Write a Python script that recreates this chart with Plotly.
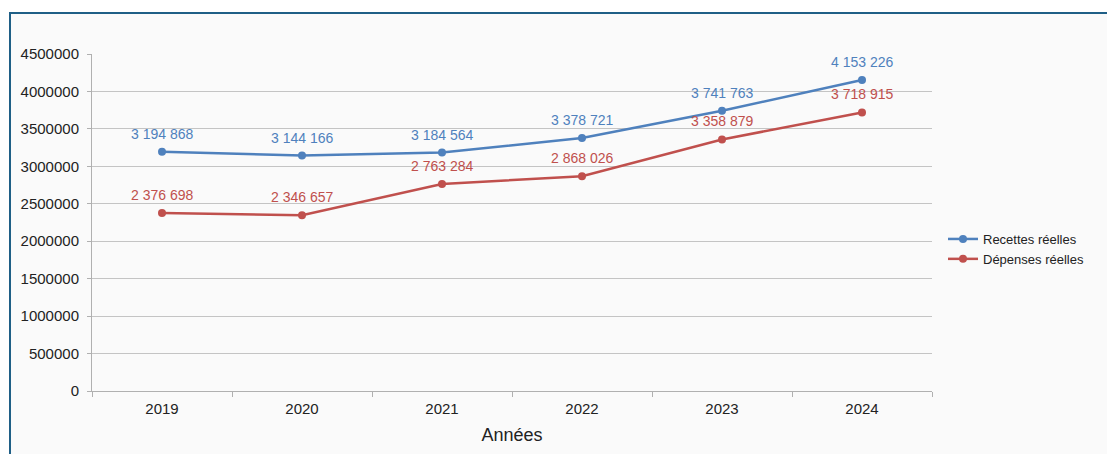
import plotly.graph_objects as go

years = ["2019", "2020", "2021", "2022", "2023", "2024"]
recettes = [3194868, 3144166, 3184564, 3378721, 3741763, 4153226]
depenses = [2376698, 2346657, 2763284, 2868026, 3358879, 3718915]

def fmt(v):
    return f"{v:,}".replace(",", " ")

W, H = 1107, 454
L, R, T, B = 92, 932, 54, 391

def px(x):
    return (x - L) / (R - L)

def py(y):
    return (B - y) / (B - T)

FONT = "Liberation Sans, Arial, sans-serif"
blue = "#4f81bd"
red = "#c0504d"

fig = go.Figure()
annots = []
for name, vals, col in [("Recettes réelles", recettes, blue), ("Dépenses réelles", depenses, red)]:
    fig.add_trace(go.Scatter(
        x=years, y=vals, name=name, mode="lines+markers",
        line=dict(color=col, width=2.5), marker=dict(color=col, size=8),
        cliponaxis=False,
    ))
    for i, v in enumerate(vals):
        annots.append(dict(x=i, y=v, xref="x", yref="y", text=fmt(v), showarrow=False,
                           yanchor="middle", yshift=18,
                           font=dict(color=col, size=14, family=FONT)))

fig.update_layout(
    width=W, height=H,
    margin=dict(l=L, r=W - R, t=T, b=H - B),
    paper_bgcolor="white",
    plot_bgcolor="rgba(0,0,0,0)",
    font=dict(family=FONT, color="#222222", size=15),
    showlegend=True,
    legend=dict(x=px(943), y=py(249), xanchor="left", yanchor="middle",
                font=dict(size=13, family=FONT, color="#222"),
                bgcolor="rgba(0,0,0,0)", tracegroupgap=2, itemwidth=30),
    annotations=annots,
    shapes=[dict(type="rect", xref="paper", yref="paper",
                 x0=px(10), x1=px(1120), y0=py(470), y1=py(13),
                 fillcolor="#fafafa", line=dict(color="#1f5f86", width=2),
                 layer="below")],
)
fig.update_xaxes(
    type="category", tickson="boundaries", ticks="outside", ticklen=5,
    tickcolor="#b0b0b0", showline=True, linecolor="#b0b0b0", linewidth=1,
    showgrid=False, range=[-0.5, 5.5], ticklabelstandoff=4,
    tickfont=dict(size=15, color="#222"),
    title=dict(text="Années", font=dict(size=18, color="#222"), standoff=12),
)
fig.update_yaxes(
    range=[0, 4500000], dtick=500000, tickformat="d",
    ticks="outside", ticklen=4, tickcolor="#b0b0b0",
    showline=True, linecolor="#b0b0b0", linewidth=1,
    showgrid=True, gridcolor="#c4c4c4", gridwidth=1,
    zeroline=False, ticklabelstandoff=5,
    tickfont=dict(size=15, color="#222"),
)

fig.write_html("out.html")
